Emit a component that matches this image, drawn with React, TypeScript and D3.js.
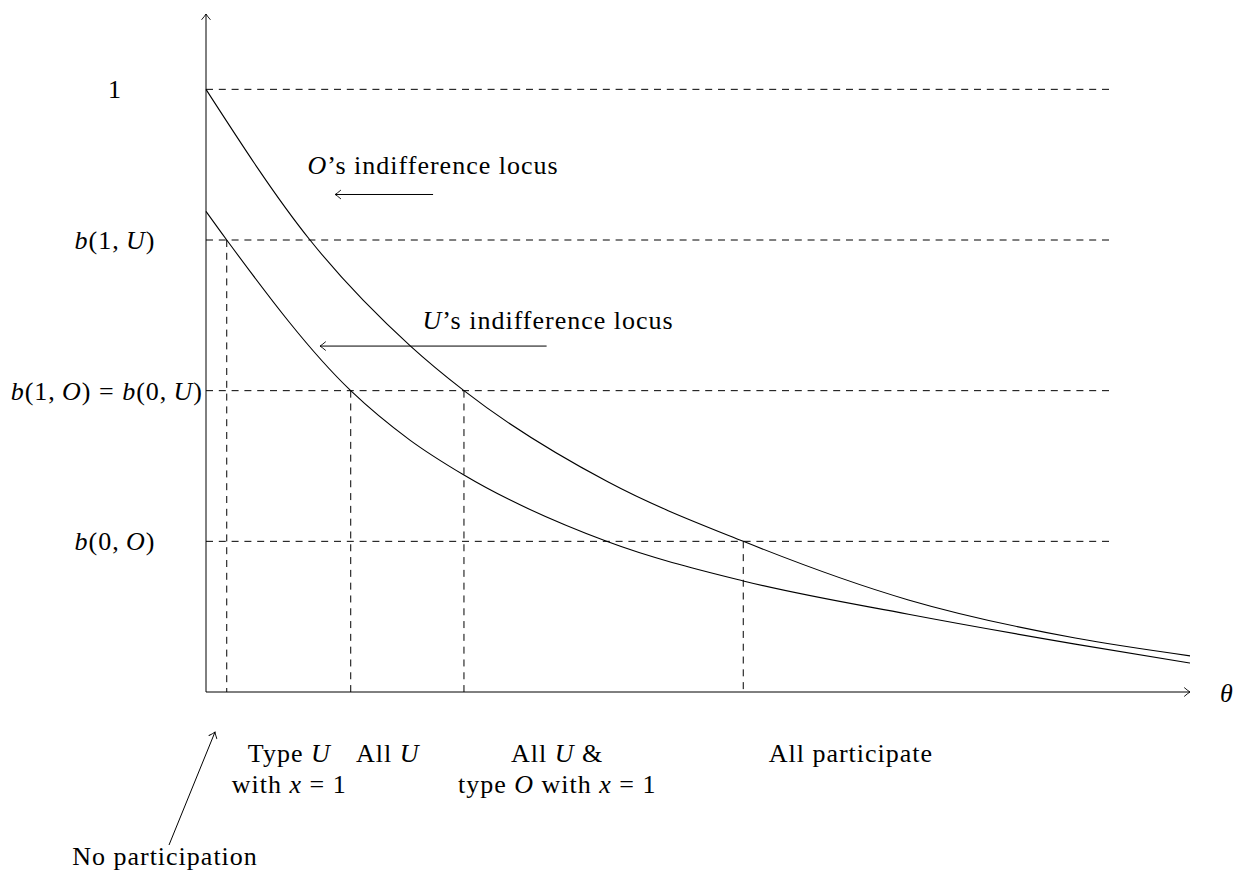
import React, { useRef, useEffect } from 'react';
import * as d3 from 'd3';

// levels on the vertical axis (top to bottom)
const levelValues = [4, 3, 2, 1];
const levelLabels = ['$1$', '$b(1,U)$', '$b(1,O)=b(0,U)$', '$b(0,O)$'];

// O's indifference locus
const thetaO = [0, 0.687, 1.351, 1.704, 2.654, 3.549, 4.64, 5.742, 6.5];
const locusO = [4.0, 3.0, 2.296, 2.0, 1.395, 1.0, 0.611, 0.358, 0.24];

// U's indifference locus
const thetaU = [0, 0.137, 0.956, 1.347, 1.704, 2.646, 3.549, 4.64, 5.742, 6.5];
const locusU = [3.19, 3.0, 2.0, 1.672, 1.44, 1.0, 0.737, 0.516, 0.318, 0.192];

// cut-off thetas and the level each dashed drop comes down from
const cutTheta = [0.137, 0.956, 1.704, 3.549];
const cutLevel = [3, 2, 2, 1];

// participation regions under the axis
const regionLines = [
    ['Type $U$', 'with $x=1$'],
    ['All $U$'],
    ['All $U$ &', 'type $O$ with $x=1$'],
    ['All participate'],
];
const regionTheta = [0.55, 1.2, 2.32, 4.26];

const FONT = '"Liberation Serif", "DejaVu Serif", serif';

// write a label with $...$ math parts: letters italic, = spaced, thin space after commas
function appendMath(text, str) {
    str.split('$').forEach((part, i) => {
        if (i % 2 === 0) {
            if (part) text.append('tspan').text(part);
            return;
        }
        const tokens = part.match(/[A-Za-zθ]|=|,|[^A-Za-zθ=,]+/g) || [];
        tokens.forEach(tok => {
            if (/^[A-Za-zθ]$/.test(tok)) {
                text.append('tspan').attr('font-style', 'italic').text(tok);
            } else if (tok === '=') {
                text.append('tspan').text(' = ');
            } else if (tok === ',') {
                text.append('tspan').text(',\u2009');
            } else {
                text.append('tspan').text(tok);
            }
        });
    });
}

const App = () => {
    const svgRef = useRef(null);

    useEffect(() => {
        const svg = d3.select(svgRef.current);
        svg.selectAll('*').remove();

        const x = d3.scaleLinear().domain([0, 6.5]).range([206, 1190]);
        const y = d3.scaleLinear().domain([0, 4.5]).range([692, 14]);

        // tikz-like open arrow head
        svg.append('defs').append('marker')
            .attr('id', 'tip')
            .attr('viewBox', '-8 -6 10 12')
            .attr('refX', 0)
            .attr('refY', 0)
            .attr('markerWidth', 10)
            .attr('markerHeight', 12)
            .attr('markerUnits', 'userSpaceOnUse')
            .attr('orient', 'auto')
            .append('path')
            .attr('d', 'M -5.5 -4.2 Q -1.5 -0.8 0 0 Q -1.5 0.8 -5.5 4.2')
            .attr('fill', 'none')
            .attr('stroke', '#000')
            .attr('stroke-width', 0.9)
            .attr('stroke-linecap', 'round');

        const g = svg.append('g');

        // horizontal dashed levels
        g.selectAll('.level')
            .data(levelValues)
            .join('line')
            .attr('x1', x(0))
            .attr('x2', x(6))
            .attr('y1', d => y(d))
            .attr('y2', d => y(d))
            .attr('stroke', '#000')
            .attr('stroke-width', 1)
            .attr('stroke-dasharray', '7 5.8');

        // vertical dashed drops
        g.selectAll('.cut')
            .data(cutTheta)
            .join('line')
            .attr('x1', d => x(d))
            .attr('x2', d => x(d))
            .attr('y1', (d, i) => y(cutLevel[i]))
            .attr('y2', y(0))
            .attr('stroke', '#000')
            .attr('stroke-width', 1)
            .attr('stroke-dasharray', '7 5.8');

        // axes
        g.append('line')
            .attr('x1', x(0)).attr('y1', y(0))
            .attr('x2', x(0)).attr('y2', y(4.5))
            .attr('stroke', '#000').attr('stroke-width', 1)
            .attr('marker-end', 'url(#tip)');
        g.append('line')
            .attr('x1', x(0)).attr('y1', y(0))
            .attr('x2', x(6.5)).attr('y2', y(0))
            .attr('stroke', '#000').attr('stroke-width', 1)
            .attr('marker-end', 'url(#tip)');

        // the two loci
        const line = d3.line()
            .x(d => x(d[0]))
            .y(d => y(d[1]))
            .curve(d3.curveMonotoneX);

        [[thetaO, locusO], [thetaU, locusU]].forEach(([ts, bs]) => {
            g.append('path')
                .datum(ts.map((t, i) => [t, bs[i]]))
                .attr('fill', 'none')
                .attr('stroke', '#000')
                .attr('stroke-width', 1.1)
                .attr('d', line);
        });

        const txt = (px, py, anchor = 'middle') => svg.append('text')
            .attr('x', px)
            .attr('y', py)
            .attr('text-anchor', anchor)
            .attr('font-family', FONT)
            .attr('font-size', 26)
            .attr('letter-spacing', 1)
            .attr('fill', '#000')
            .style('white-space', 'pre');

        // level labels left of the axis
        levelLabels.forEach((lab, i) => {
            const long = i === 2;
            appendMath(txt(long ? x(0) - 3 : 115, y(levelValues[i]) + 9, long ? 'end' : 'middle'), lab);
        });

        // axis label
        appendMath(txt(1227, y(0) + 10), '$θ$');

        // loci annotations with arrows pointing at the curves
        appendMath(txt(x(1.5), 174), '$O$\u2019s indifference locus');
        g.append('line')
            .attr('x1', x(1.5)).attr('x2', x(0.853))
            .attr('y1', y(3.302)).attr('y2', y(3.302))
            .attr('stroke', '#000').attr('stroke-width', 1)
            .attr('marker-end', 'url(#tip)');

        appendMath(txt(x(2.26), 329), '$U$\u2019s indifference locus');
        g.append('line')
            .attr('x1', x(2.25)).attr('x2', x(0.753))
            .attr('y1', y(2.296)).attr('y2', y(2.296))
            .attr('stroke', '#000').attr('stroke-width', 1)
            .attr('marker-end', 'url(#tip)');

        // regions below the axis
        regionLines.forEach((lines, i) => {
            lines.forEach((ln, j) => {
                appendMath(txt(x(regionTheta[i]), y(0) + 70 + j * 31), ln);
            });
        });

        // no participation, pointing at the origin
        appendMath(txt(165, 865), 'No participation');
        g.append('line')
            .attr('x1', 169).attr('y1', 845)
            .attr('x2', 215).attr('y2', 732)
            .attr('stroke', '#000').attr('stroke-width', 1)
            .attr('marker-end', 'url(#tip)');
    }, []);

    return (
        <svg ref={svgRef} width="1240" height="875"
            style={{ position: 'absolute', left: 0, top: 0, background: '#fff' }} />
    );
};

export default App;
